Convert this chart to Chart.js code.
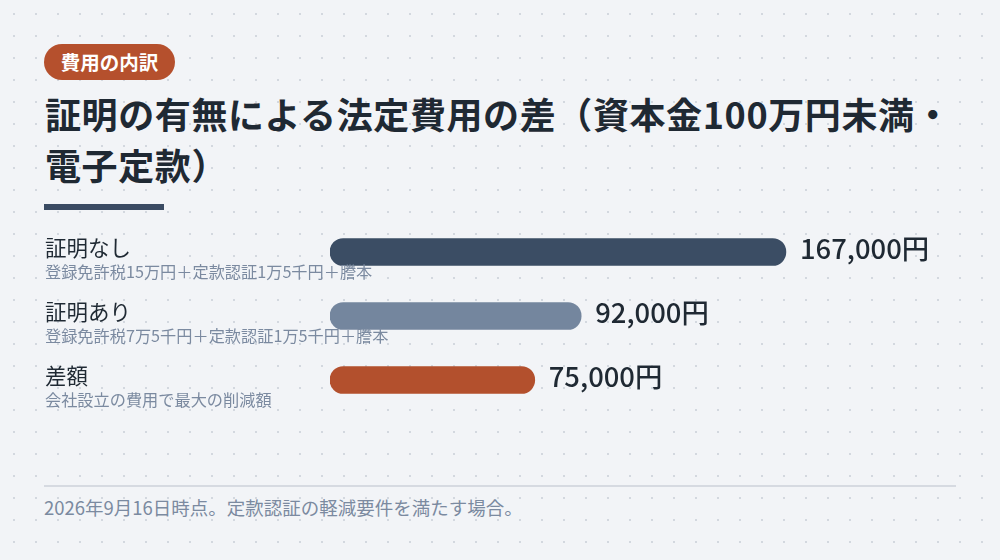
<!DOCTYPE html>
<html lang="ja">
<head>
<meta charset="utf-8">
<script src="https://cdn.jsdelivr.net/npm/chart.js@4.4.1/dist/chart.umd.min.js"></script>
<style>
  html, body { margin: 0; padding: 0; }
  body {
    width: 1000px; height: 560px; overflow: hidden; position: relative;
    background-color: #f2f4f7;
    background-image: radial-gradient(circle, #d3d8df 1px, transparent 1.3px);
    background-size: 22px 22px;
    background-position: 3px 3px;
    font-family: "Noto Sans CJK JP", "Noto Sans", sans-serif;
    color: #1f2933;
  }
  .badge {
    position: absolute; left: 44px; top: 44px; width: 131px; height: 36px;
    border-radius: 18px; background: #b5502d; color: #fff;
    font-weight: 700; font-size: 19.5px; line-height: 36px; text-align: center;
  }
  .title {
    position: absolute; left: 45px; top: 88px; width: 930px;
    font-weight: 700; font-size: 36px; line-height: 51px; letter-spacing: 0.6px;
    color: #1f2933;
  }
  .rule { position: absolute; left: 44px; top: 204px; width: 120px; height: 6px; background: #3a4b63; }
  .foot-line { position: absolute; left: 44px; top: 485px; width: 912px; height: 2px; background: #d6dae1; }
  .foot {
    position: absolute; left: 44px; top: 494px; font-size: 18.5px; line-height: 26px;
    color: #7b8aa0;
  }
  .chart-box { position: absolute; left: 0; top: 220px; width: 1000px; height: 192px; }
</style>
</head>
<body>
<div class="badge">費用の内訳</div>
<div class="title">証明の有無による法定費用の差（資本金100万円未満・<br>電子定款）</div>
<div class="rule"></div>
<div class="chart-box"><canvas id="chart"></canvas></div>
<div class="foot-line"></div>
<div class="foot">2026年9月16日時点。定款認証の軽減要件を満たす場合。</div>

<script>
// chart data
const categories = ["証明なし", "証明あり", "差額"];
const subLabels = [
  "登録免許税15万円＋定款認証1万5千円＋謄本",
  "登録免許税7万5千円＋定款認証1万5千円＋謄本",
  "会社設立の費用で最大の削減額"
];
const values = [167000, 92000, 75000];
const barColors = ["#3b4d64", "#74869e", "#b3502d"];

const FONT = '"Noto Sans CJK JP", "Noto Sans", sans-serif';

// draws the row labels on the left and the value after each bar
const labelPlugin = {
  id: "rowLabels",
  afterDatasetsDraw(chart) {
    const ctx = chart.ctx;
    const meta = chart.getDatasetMeta(0);
    ctx.save();
    meta.data.forEach((bar, i) => {
      const y = bar.y;
      ctx.textAlign = "left";
      ctx.textBaseline = "middle";
      ctx.fillStyle = "#1f2933";
      ctx.font = "400 21.5px " + FONT;
      ctx.fillText(categories[i], 45, y - 4);
      ctx.fillStyle = "#7b8aa0";
      ctx.font = "400 16.2px " + FONT;
      ctx.fillText(subLabels[i], 45, y + 20);

      ctx.fillStyle = "#1f2933";
      ctx.font = "500 27.4px " + FONT;
      ctx.fillText(values[i].toLocaleString("ja-JP") + "円", bar.x + 14, y - 3);
    });
    ctx.restore();
  }
};

new Chart(document.getElementById("chart"), {
  type: "bar",
  data: {
    labels: categories,
    datasets: [{
      data: values,
      backgroundColor: barColors,
      barThickness: 27,
      borderRadius: 14,
      borderSkipped: false
    }]
  },
  options: {
    indexAxis: "y",
    responsive: true,
    maintainAspectRatio: false,
    animation: false,
    layout: { padding: { left: 330, right: 124, top: 0, bottom: 0 } },
    scales: {
      x: { display: false, min: 0, max: 200000 },
      y: { display: false }
    },
    plugins: {
      legend: { display: false },
      tooltip: { enabled: false }
    }
  },
  plugins: [labelPlugin]
});
</script>
</body>
</html>
